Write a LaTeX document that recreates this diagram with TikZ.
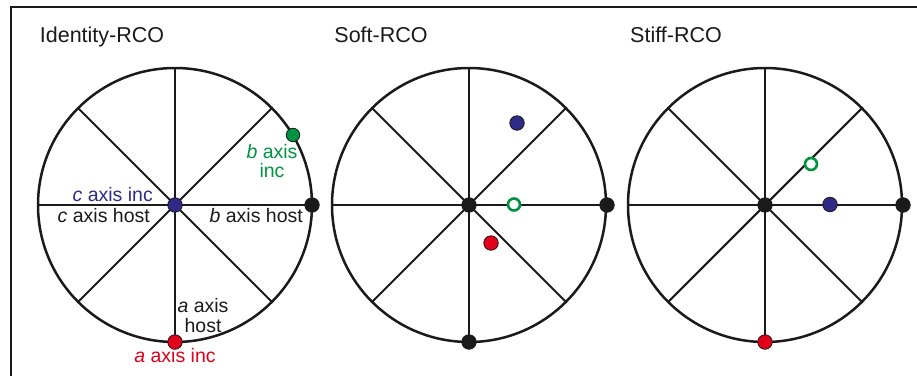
\documentclass[tikz,border=0pt]{standalone}
\usepackage{fontspec}
\setmainfont{Liberation Sans}
\definecolor{dotblue}{HTML}{2E2A86}
\definecolor{dotgreen}{HTML}{00933F}
\definecolor{dotred}{HTML}{E2001A}
\definecolor{ink}{HTML}{1A1A1A}
\begin{document}
\begin{tikzpicture}[x=1pt,y=-1pt,
  frame/.style={line width=2.2pt, draw=ink},
  rim/.style={line width=2.5pt, draw=ink},
  spoke/.style={line width=2.1pt, draw=ink},
  dot/.style={circle, draw=ink, line width=0.8pt, inner sep=0pt, minimum size=14.5pt},
  blackdot/.style={dot, fill=ink},
  bluedot/.style={dot, fill=dotblue},
  reddot/.style={dot, fill=dotred},
  greendot/.style={dot, fill=dotgreen, minimum size=13.5pt},
  ring/.style={circle, draw=dotgreen, fill=white, line width=2.6pt, inner sep=0pt, minimum size=12pt},
  title/.style={anchor=base, inner sep=0pt, font=\fontsize{21.5}{24}\selectfont, text=ink},
  lab/.style={anchor=base, inner sep=0pt, font=\fontsize{19.5}{22}\selectfont, text=ink}]
\useasboundingbox (0,0) rectangle (917,375);
\draw[frame] (918,7) -- (11,7) -- (11,376);

\foreach \cx/\n in {175/a,469/b,765/c} {
  \coordinate (c\n) at (\cx,205);
  \draw[spoke] (\cx-137,205) -- (\cx+137,205);
  \draw[spoke] (\cx,68) -- (\cx,342);
  \draw[spoke] (\cx-96.9,108.1) -- (\cx+96.9,301.9);
  \draw[spoke] (\cx-96.9,301.9) -- (\cx+96.9,108.1);
  \draw[rim] (c\n) circle[radius=137];
}

% titles
\node[title] (t1) at (102,42) {Identity-RCO};
\node[title] (t2) at (381,42) {Soft-RCO};
\node[title] (t3) at (676,42) {Stiff-RCO};

% Identity-RCO
\node[bluedot] (a0) at (ca) {};
\node[blackdot] (ab) at (312,205) {};
\node[reddot] (aa) at (175,342) {};
\node[greendot] (ag) at (293,135) {};
\node[lab, anchor=base east, text=dotblue] (lci) at (153,201) {\textit{c} axis inc};
\node[lab, anchor=base east] (lch) at (150,222) {\textit{c} axis host};
\node[lab, anchor=base east] (lbh) at (303,222) {\textit{b} axis host};
\node[lab, text=dotgreen] (lbi1) at (272,158) {\textit{b} axis};
\node[lab, text=dotgreen] (lbi2) at (272,177) {inc};
\node[lab] (lah1) at (203,312) {\textit{a} axis};
\node[lab] (lah2) at (203,332) {host};
\node[lab, text=dotred] (lai) at (175,362) {\textit{a} axis inc};

% Soft-RCO
\node[blackdot] (b0) at (cb) {};
\node[blackdot] (bb) at (607,205) {};
\node[blackdot] (ba) at (469,342) {};
\node[bluedot] (bc) at (517,123) {};
\node[ring] (bg) at (514,204.5) {};
\node[reddot] (br) at (491,243) {};

% Stiff-RCO
\node[blackdot] (c0) at (cc) {};
\node[blackdot] (cb) at (903,205) {};
\node[reddot] (ca2) at (765,342) {};
\node[ring] (cg) at (811,164) {};
\node[bluedot] (cbl) at (830,204.5) {};
\end{tikzpicture}
\end{document}
